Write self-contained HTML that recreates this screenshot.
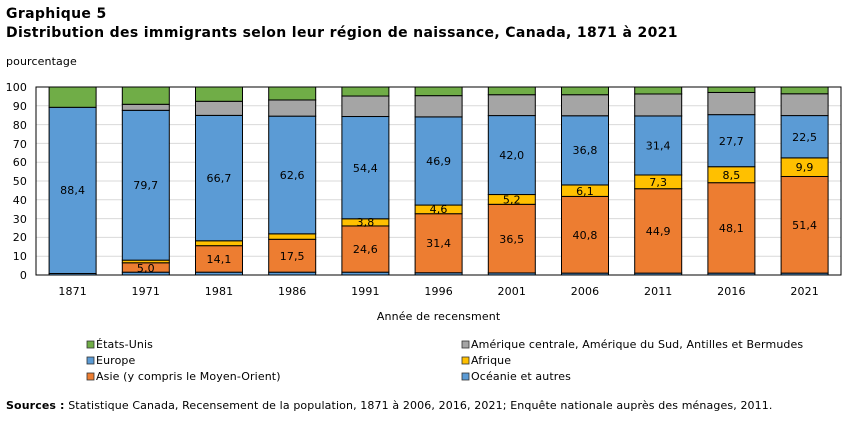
<!DOCTYPE html>
<html><head><meta charset="utf-8"><style>
body{margin:0;background:#fff;}
svg text{font-family:"DejaVu Sans","Liberation Sans",sans-serif;font-size:11px;fill:#000;letter-spacing:0.12px;}
.t{font-weight:bold;font-size:14px;letter-spacing:0.35px;}
.c{text-anchor:middle;}
.r{text-anchor:end;}
</style></head><body>
<svg id="s" width="851" height="417" xmlns="http://www.w3.org/2000/svg">
<rect width="851" height="417" fill="#fff"/>
<text x="6" y="18" class="t">Graphique  5</text>
<text x="6" y="37" class="t">Distribution  des immigrants  selon leur région de naissance, Canada, 1871 à 2021</text>
<text x="6" y="65">pourcentage</text>
<g id="grid"></g>
<g id="bars"></g>
<rect x="36" y="87" width="805" height="188" fill="none" stroke="#000" stroke-width="1"/>
<g class="r">
<text x="27" y="91">100</text><text x="27" y="110">90</text><text x="27" y="129">80</text><text x="27" y="148">70</text><text x="27" y="166">60</text><text x="27" y="185">50</text><text x="27" y="204">40</text><text x="27" y="223">30</text><text x="27" y="241">20</text><text x="27" y="260">10</text><text x="27" y="279">0</text>
</g>
<g class="c">
<text x="72.6" y="295">1871</text><text x="145.8" y="295">1971</text><text x="219" y="295">1981</text><text x="292.2" y="295">1986</text><text x="365.4" y="295">1991</text><text x="438.6" y="295">1996</text><text x="511.8" y="295">2001</text><text x="585" y="295">2006</text><text x="658.2" y="295">2011</text><text x="731.4" y="295">2016</text><text x="804.6" y="295">2021</text>
<text x="438.6" y="320">Année de recensment</text>
<text x="72.6" y="194">88,4</text><text x="145.8" y="189">79,7</text><text x="219" y="182">66,7</text><text x="292.2" y="179">62,6</text><text x="365.4" y="172">54,4</text><text x="438.6" y="165">46,9</text><text x="511.8" y="159">42,0</text><text x="585" y="154">36,8</text><text x="658.2" y="149.5">31,4</text><text x="731.4" y="145">27,7</text><text x="804.6" y="141">22,5</text>
<text x="145.8" y="272">5,0</text><text x="219" y="263">14,1</text><text x="292.2" y="260">17,5</text><text x="365.4" y="253">24,6</text><text x="438.6" y="247">31,4</text><text x="511.8" y="243">36,5</text><text x="585" y="239">40,8</text><text x="658.2" y="235">44,9</text><text x="731.4" y="232">48,1</text><text x="804.6" y="229">51,4</text>
<text x="365.4" y="226">3,8</text><text x="438.6" y="213">4,6</text><text x="511.8" y="203.5">5,2</text><text x="585" y="195">6,1</text><text x="658.2" y="186">7,3</text><text x="731.4" y="179">8,5</text><text x="804.6" y="171">9,9</text>
</g>
<g stroke="#333" stroke-width="0.8">
<rect x="87" y="341" width="7" height="7" fill="#70ad47"/>
<rect x="87" y="357" width="7" height="7" fill="#5b9bd5"/>
<rect x="87" y="373" width="7" height="7" fill="#ed7d31"/>
<rect x="462" y="341" width="7" height="7" fill="#a5a5a5"/>
<rect x="462" y="357" width="7" height="7" fill="#ffc000"/>
<rect x="462" y="373" width="7" height="7" fill="#5b9bd5"/>
</g>
<text x="96" y="348">États-Unis</text>
<text x="96" y="364">Europe</text>
<text x="96" y="380">Asie (y compris le Moyen-Orient)</text>
<text x="471" y="348">Amérique centrale, Amérique du Sud, Antilles et Bermudes</text>
<text x="471" y="364">Afrique</text>
<text x="471" y="380">Océanie et autres</text>
<text x="6" y="409"><tspan font-weight="bold">Sources :</tspan> Statistique Canada, Recensement de la population, 1871 à 2006, 2016, 2021; Enquête nationale auprès des ménages, 2011.</text>
</svg>
<script>
var d=[[0.8,0,0,88.4,0],[1.5,5.0,1.4,79.7,3.2],[1.5,14.1,2.6,66.7,7.5],[1.5,17.5,2.9,62.6,8.6],[1.5,24.6,3.8,54.4,10.9],[1.2,31.4,4.6,46.9,11.3],[1.1,36.5,5.2,42.0,11.1],[1.0,40.8,6.1,36.8,11.2],[1.0,44.9,7.3,31.4,11.7],[1.0,48.1,8.5,27.7,11.8],[1.0,51.4,9.9,22.5,11.6]];
var col=["#5b9bd5","#ed7d31","#ffc000","#5b9bd5","#a5a5a5","#70ad47"];
var ns="http://www.w3.org/2000/svg",g=document.getElementById("bars"),gr=document.getElementById("grid");
function Y(v){return 275-1.88*v;}
for(var k=1;k<10;k++){var l=document.createElementNS(ns,"line");l.setAttribute("x1",36);l.setAttribute("x2",841);l.setAttribute("y1",Y(k*10));l.setAttribute("y2",Y(k*10));l.setAttribute("stroke","#d9d9d9");gr.appendChild(l);}
d.forEach(function(r,i){var cx=72.6+73.2*i,b=0;var vals=r.concat([100-r.reduce(function(a,c){return a+c},0)]);
vals.forEach(function(v,j){if(v<=0)return;var e=document.createElementNS(ns,"rect");e.setAttribute("x",cx-23.5);e.setAttribute("width",47);e.setAttribute("y",Y(b+v));e.setAttribute("height",1.88*v);e.setAttribute("fill",col[j]);e.setAttribute("stroke","#000");e.setAttribute("stroke-width","1");g.appendChild(e);b+=v;});});
</script>
</body></html>
